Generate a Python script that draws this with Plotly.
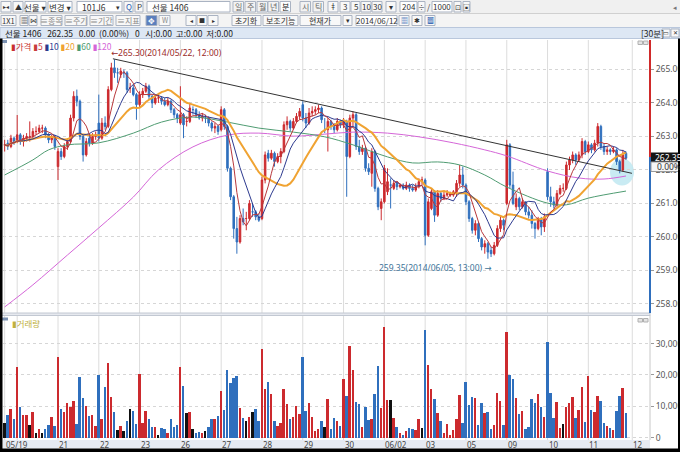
import pandas as pd
import plotly.graph_objects as go

W, H = 680, 452
KR = "Noto Sans CJK KR, Noto Sans, DejaVu Sans"
NUM = "Noto Sans, DejaVu Sans"

# 선물 1406, 30분봉 (05/19 ~ 06/11)
opens = [
    262.75, 262.80, 262.70, 262.95,
    262.85, 263.05, 262.85, 262.95, 263.00, 263.00, 263.15, 263.15, 263.25, 263.25, 263.05, 262.90, 263.00,
    262.10, 262.55, 262.40, 262.70, 262.85, 263.55, 264.20, 264.05, 263.00, 262.45, 262.95, 262.80, 263.00,
    263.40, 262.95, 263.40, 263.30, 264.40, 265.05, 264.90, 264.85, 264.90, 264.90, 264.45, 264.45, 264.25,
    263.95, 264.25, 264.35, 264.50, 264.20, 264.00, 264.15, 264.15, 264.05, 263.95, 264.05, 263.80, 263.65,
    263.40, 263.65, 263.45, 263.45, 263.80, 263.80, 263.65, 263.55, 263.55, 263.55, 263.40, 263.25, 263.30,
    263.20, 263.80, 263.30, 262.05, 261.20, 260.25, 259.85, 260.55, 260.55, 260.55, 260.75, 260.75, 260.60,
    260.55, 261.70, 262.50, 262.35, 262.50, 262.25, 262.40, 262.55, 263.35, 263.45, 263.25, 263.45, 263.60,
    263.95, 263.55, 263.40, 263.70, 263.75, 263.80, 263.85, 263.20, 263.20, 263.45, 263.30, 263.20, 263.45,
    263.35, 263.45, 262.40, 263.55, 263.65, 262.70, 262.55, 262.65, 262.05, 261.90, 262.55, 261.45, 260.85,
    261.05, 261.35, 261.55, 261.45, 261.60, 261.50, 261.55, 261.45, 261.55, 261.45, 261.40, 261.50, 261.70,
    261.70, 260.05, 260.85, 261.35, 260.65, 261.30, 261.15, 261.25, 261.25, 261.25, 261.35, 261.60, 261.85,
    261.55, 261.05, 260.55, 260.20, 260.40, 259.95, 259.70, 259.80, 259.60, 259.50, 259.75, 260.25, 260.50,
    261.00, 262.75, 261.55, 260.90, 261.15, 260.90, 261.05, 260.75, 260.65, 260.40, 260.25, 260.55, 260.30,
    261.95, 261.20, 261.05, 260.95, 261.30, 261.45, 261.45, 262.15, 262.30, 262.45, 262.30, 262.45, 262.85,
    262.55, 262.75, 262.60, 262.80, 263.30, 262.70, 262.55, 262.60, 262.55, 262.60, 262.25, 262.00, 262.50,
]
highs = [
    262.90, 262.90, 263.05, 263.00,
    263.64, 263.10, 263.05, 263.10, 263.45, 263.25, 263.30, 263.35, 263.35, 263.30, 263.10, 263.05, 263.05,
    262.65, 262.65, 262.80, 262.95, 263.65, 264.35, 264.40, 264.10, 263.05, 262.95, 263.05, 263.10, 263.15,
    264.25, 263.55, 263.60, 264.50, 265.20, 265.30, 265.05, 265.05, 265.00, 264.95, 264.60, 264.55, 264.30,
    264.35, 264.45, 264.60, 264.55, 264.25, 264.25, 264.30, 264.20, 264.15, 264.15, 264.10, 263.85, 263.70,
    264.50, 263.70, 263.60, 264.00, 263.90, 263.85, 263.75, 263.70, 263.65, 263.60, 263.45, 263.40, 263.35,
    263.90, 263.85, 263.35, 262.10, 261.25, 260.60, 260.65, 260.85, 260.75, 261.10, 261.00, 260.80, 260.70,
    261.80, 262.55, 262.60, 262.60, 262.55, 262.50, 262.65, 263.45, 263.60, 263.50, 263.55, 263.70, 263.85,
    264.05, 263.70, 263.85, 263.90, 263.90, 263.95, 263.90, 263.55, 263.55, 263.50, 263.40, 263.55, 263.50,
    263.55, 263.50, 263.65, 263.75, 263.70, 262.90, 262.75, 262.70, 262.20, 262.65, 262.60, 261.50, 261.15,
    262.15, 262.05, 261.75, 261.70, 261.65, 261.60, 261.60, 261.65, 261.60, 261.55, 261.60, 261.75, 261.80,
    261.75, 261.15, 261.45, 261.40, 261.40, 261.35, 261.35, 261.40, 261.35, 261.40, 261.70, 262.15, 262.10,
    261.60, 261.10, 260.60, 260.50, 260.45, 260.00, 259.90, 259.85, 259.70, 259.85, 260.35, 260.60, 260.55,
    262.90, 262.80, 261.95, 261.30, 261.20, 261.15, 261.05, 260.90, 260.80, 260.45, 260.60, 260.60, 260.70,
    262.05, 261.50, 261.20, 261.40, 261.55, 261.60, 262.25, 262.40, 262.55, 262.50, 262.55, 262.95, 262.90,
    262.85, 262.80, 262.90, 263.40, 263.35, 262.80, 262.70, 262.65, 262.70, 262.65, 262.30, 262.60, 262.55,
]
lows = [
    262.55, 262.60, 262.65, 262.75,
    262.80, 262.75, 262.70, 262.85, 262.85, 262.95, 263.05, 263.10, 263.10, 262.95, 262.80, 262.80, 262.60,
    261.70, 262.30, 262.35, 262.60, 262.80, 263.45, 263.90, 262.90, 262.25, 262.40, 262.70, 262.75, 262.90,
    262.85, 262.90, 263.20, 263.25, 264.35, 264.75, 264.60, 264.75, 264.75, 264.30, 264.30, 264.20, 263.50,
    263.85, 264.15, 264.30, 264.10, 263.85, 263.95, 264.00, 263.95, 263.90, 263.90, 263.70, 263.55, 263.40,
    263.35, 262.95, 263.30, 263.40, 263.65, 263.55, 263.50, 263.45, 263.40, 263.30, 263.15, 263.10, 263.05,
    263.15, 263.20, 261.95, 261.10, 259.95, 259.50, 259.80, 260.35, 260.20, 260.50, 260.60, 260.50, 260.45,
    260.50, 261.60, 262.25, 262.30, 262.10, 262.20, 262.20, 262.50, 263.20, 263.15, 263.20, 263.40, 263.50,
    263.45, 263.25, 263.35, 263.60, 263.65, 263.70, 263.40, 263.10, 262.55, 263.20, 263.10, 263.15, 263.25,
    263.25, 261.20, 262.35, 263.30, 262.60, 262.45, 262.45, 261.95, 261.85, 261.50, 261.35, 260.80, 260.50,
    261.00, 261.25, 260.85, 261.40, 261.40, 261.45, 261.40, 261.40, 261.35, 261.35, 261.35, 261.45, 261.55,
    259.75, 260.00, 260.80, 260.45, 260.60, 261.05, 261.10, 261.20, 261.20, 261.20, 261.20, 261.50, 261.45,
    260.95, 260.45, 260.10, 260.05, 259.85, 259.60, 259.50, 259.35, 259.40, 259.45, 259.70, 260.15, 260.20,
    260.95, 261.45, 260.95, 260.80, 260.80, 260.85, 260.65, 260.55, 260.25, 259.95, 260.20, 260.05, 260.15,
    261.10, 260.90, 260.85, 260.90, 261.25, 261.35, 261.40, 262.00, 262.20, 262.15, 262.25, 262.35, 262.45,
    262.50, 262.50, 262.55, 262.70, 262.60, 262.45, 262.45, 262.45, 262.50, 262.15, 261.90, 261.95, 262.30,
]
closes = [
    262.75, 262.70, 262.95, 262.85,
    263.05, 262.85, 262.95, 263.00, 263.00, 263.15, 263.15, 263.25, 263.25, 263.05, 262.90, 263.00, 262.70,
    262.55, 262.40, 262.70, 262.85, 263.55, 264.20, 264.05, 263.00, 262.45, 262.85, 262.80, 263.00, 263.05,
    262.95, 263.40, 263.30, 264.40, 265.05, 264.90, 264.90, 264.95, 264.90, 264.40, 264.45, 264.25, 263.95,
    264.25, 264.35, 264.50, 264.20, 264.00, 264.15, 264.15, 264.05, 263.95, 264.05, 263.80, 263.65, 263.55,
    263.65, 263.35, 263.45, 263.85, 263.80, 263.65, 263.55, 263.60, 263.55, 263.40, 263.25, 263.30, 263.15,
    263.80, 263.30, 262.05, 261.20, 260.25, 259.85, 260.55, 260.45, 260.55, 261.00, 260.75, 260.60, 260.50,
    261.70, 262.45, 262.35, 262.50, 262.25, 262.40, 262.55, 263.35, 263.45, 263.25, 263.45, 263.60, 263.75,
    263.55, 263.40, 263.70, 263.75, 263.80, 263.85, 263.50, 263.20, 263.45, 263.30, 263.20, 263.45, 263.35,
    263.45, 262.40, 263.55, 263.65, 262.70, 262.55, 262.65, 262.05, 261.95, 262.55, 261.45, 260.90, 261.05,
    262.05, 261.65, 261.55, 261.60, 261.50, 261.55, 261.45, 261.55, 261.45, 261.40, 261.50, 261.65, 261.70,
    260.05, 261.05, 261.35, 260.65, 261.30, 261.15, 261.25, 261.30, 261.30, 261.35, 261.60, 261.85, 261.55,
    261.05, 260.55, 260.20, 260.40, 259.95, 259.70, 259.80, 259.55, 259.50, 259.75, 260.25, 260.50, 260.35,
    262.75, 261.55, 261.00, 261.15, 260.90, 261.05, 260.75, 260.65, 260.40, 260.25, 260.55, 260.30, 260.60,
    261.20, 261.05, 260.95, 261.30, 261.45, 261.45, 262.15, 262.30, 262.45, 262.30, 262.45, 262.85, 262.55,
    262.75, 262.60, 262.80, 263.30, 262.70, 262.55, 262.60, 262.55, 262.60, 262.25, 262.00, 262.45, 262.35,
]
volumes = [
    4760, 7400, 9300, 6100,
    22850, 10050, 7400, 7400, 4340, 8460, 1690, 2960, 1800, 2960, 4340, 6670, 3910,
    26030, 9310, 8460, 11110, 10050, 11740, 4550, 19570, 12800, 10370, 7090, 7400, 3910,
    20100, 6140, 16290, 23910, 13010, 8360, 2650, 3910, 2430, 5610, 9310, 8780, 4550,
    20420, 4970, 8780, 6140, 3490, 3490, 1160, 3170, 2860, 1800, 6140, 3700, 4340,
    22750, 16610, 7940, 8360, 2960, 1690, 2010, 1690, 2430, 3600, 6030, 6240, 6980,
    15020, 8990, 21900, 17670, 19150, 19680, 9730, 6450, 5400, 6880, 8460, 9310, 5610,
    28350, 15660, 17770, 13970, 5610, 4020, 4760, 15660, 10790, 6030, 6880, 10370, 7720,
    25920, 8780, 11110, 6670, 2220, 2860, 5610, 3700, 12480, 2960, 6560, 5400, 4020,
    18830, 13540, 29410, 21690, 11640, 10900, 3700, 9840, 5820, 6140, 13970, 23060, 9630,
    35440, 12270, 12270, 6450, 3700, 1800, 1160, 2430, 3280, 3070, 2750, 6240, 3390,
    34490, 23280, 15660, 12590, 7940, 5610, 1800, 4550, 1160, 2750, 6140, 13860, 4760,
    17770, 10580, 13230, 12800, 4230, 11110, 7940, 8250, 2860, 4230, 14390, 11960, 4340,
    33860, 20100, 18830, 12700, 7720, 8780, 2860, 3700, 12480, 11210, 14070, 10050, 6880,
    30680, 14390, 6350, 11640, 3280, 4550, 9840, 11210, 13230, 6350, 8990, 16290, 5290,
    19680, 8990, 8460, 13540, 11740, 4870, 4020, 3170, 2750, 8780, 13440, 16080, 7940,
]

day_starts = [0, 4, 17, 30, 43, 56, 69, 82, 95, 108, 121, 134, 147, 160, 173, 186, 200]
day_labels = ["05/19", "", "21", "22", "23", "26", "27", "28", "29", "30",
              "06/02", "03", "05", "09", "10", "11", "12"]

# 60, 120 이평
ma60_idx = [0, 9, 14, 20, 30, 41, 50, 60, 71, 81, 92, 102, 111, 122, 130, 138, 145, 153, 160, 173, 179, 186, 198]
ma60_val = [261.85, 262.30, 262.60, 262.75, 262.81, 263.10, 263.43, 263.58, 263.43, 263.25, 263.13, 262.99,
            262.75, 262.39, 262.21, 262.24, 262.15, 261.85, 261.49, 261.01, 260.96, 261.16, 261.37]
ma120_idx = [0, 9, 20, 30, 41, 49, 60, 71, 81, 92, 102, 111, 122, 132, 143, 153, 160, 173, 183, 191, 198]
ma120_val = [257.91, 258.57, 259.46, 260.27, 261.19, 262.00, 262.69, 263.04, 263.10, 263.01, 263.07, 263.13,
             263.10, 262.99, 262.81, 262.60, 262.42, 261.97, 261.76, 261.73, 261.82]

trend_idx = [34.5, 199.9]
trend_val = [265.32, 261.90]

price_ticks = [258, 259, 260, 261, 262, 263, 264, 265]
vol_ticks = [0, 10000, 20000, 30000]
vol_tick_text = ["0", "10,000", "20,000", "30,000"]

RED = "#cc2a2e"
BLUE = "#2f6fbd"

bars = list(range(len(closes)))
cl = pd.Series(closes)
ma5 = cl.rolling(5, min_periods=1).mean()
ma10 = cl.rolling(10, min_periods=1).mean()
ma20 = cl.rolling(20, min_periods=1).mean()

vol_colors = [RED if c > o else (BLUE if c < o else "#111111") for o, c in zip(opens, closes)]


def px(x):
    return x / W


def py(y):
    return 1 - y / H


shapes = []
annotations = []


def rect(x0, y0, x1, y1, fill, line=None, layer="above"):
    shapes.append(dict(type="rect", xref="paper", yref="paper",
                       x0=px(x0), x1=px(x1), y0=py(y1), y1=py(y0),
                       fillcolor=fill, layer=layer,
                       line=dict(color=line or fill, width=1 if line else 0)))


def text(x, y, s, size=9, color="#222", anchor="left", family=KR):
    annotations.append(dict(xref="paper", yref="paper", x=px(x), y=py(y), text=s,
                            showarrow=False, xanchor=anchor, yanchor="middle",
                            font=dict(size=size, color=color, family=family)))


def button(x0, x1, y0, y1, label, fill="#f8f8f8", color="#333", size=8.5, border="#aab3c2"):
    rect(x0, y0, x1, y1, fill, border)
    if label:
        text((x0 + x1) / 2, (y0 + y1) / 2, label, size=size, color=color, anchor="center")


fig = go.Figure()

fig.add_trace(go.Candlestick(
    x=bars, open=opens, high=highs, low=lows, close=closes,
    increasing=dict(line=dict(color=RED, width=1), fillcolor=RED),
    decreasing=dict(line=dict(color=BLUE, width=1), fillcolor=BLUE),
    whiskerwidth=0, hoverinfo="skip", showlegend=False, xaxis="x", yaxis="y"))

fig.add_trace(go.Scatter(x=ma120_idx, y=ma120_val, mode="lines", line=dict(color="#d566d8", width=1, shape="spline"),
                         hoverinfo="skip", showlegend=False))
fig.add_trace(go.Scatter(x=ma60_idx, y=ma60_val, mode="lines", line=dict(color="#4f9c72", width=1, shape="spline"),
                         hoverinfo="skip", showlegend=False))
fig.add_trace(go.Scatter(x=bars, y=ma20, mode="lines", line=dict(color="#f0a332", width=2),
                         hoverinfo="skip", showlegend=False))
fig.add_trace(go.Scatter(x=bars, y=ma10, mode="lines", line=dict(color="#2d3a8f", width=1),
                         hoverinfo="skip", showlegend=False))
fig.add_trace(go.Scatter(x=bars, y=ma5, mode="lines", line=dict(color="#b8383c", width=1),
                         hoverinfo="skip", showlegend=False))
fig.add_trace(go.Scatter(x=trend_idx, y=trend_val, mode="lines", line=dict(color="#333333", width=1),
                         hoverinfo="skip", showlegend=False))

fig.add_trace(go.Bar(x=bars, y=volumes, marker=dict(color=vol_colors, line=dict(width=0)), width=0.62,
                     hoverinfo="skip", showlegend=False, xaxis="x2", yaxis="y2"))

# 가로 그리드는 축, 세로 날짜선은 shape
for d in day_starts:
    shapes.append(dict(type="line", xref="x", yref="paper", x0=d, x1=d, y0=py(448), y1=py(40),
                       line=dict(color="#dcdcdc", width=1), layer="below"))

# 하이라이트 원
shapes.append(dict(type="circle", xref="paper", yref="paper", x0=px(610), x1=px(634), y0=py(185.5), y1=py(158.5),
                   fillcolor="#bfe8f1", opacity=0.85, line=dict(width=0), layer="below"))

# 툴바
rect(0, 0, 680, 13.5, "#f0f0f0")
rect(0, 13.5, 680, 27.5, "#f4f4f4")
shapes.append(dict(type="line", xref="paper", yref="paper", x0=0, x1=1, y0=py(13.5), y1=py(13.5),
                   line=dict(color="#d0d0d0", width=1)))
rect(0, 27.5, 680, 38.5, "#dde7f4", "#b9c7dc")

y0, y1 = 1.5, 12
button(1, 11, y0, y1, "▸◂", size=6)
button(13, 23, y0, y1, "▲", size=7)
button(25, 46, y0, y1, "선물 ▾", fill="#ffffff")
button(48, 72, y0, y1, "변경 ▾", fill="#ffffff")
rect(77, y0, 122, y1, "#ffffff", "#aab3c2")
text(80, 6.8, "101J6", size=8.5, color="#333")
text(118, 6.8, "▾", size=7, color="#333", anchor="center")
button(124, 133, y0, y1, "Q", color="#2a5db0", size=8)
button(135, 143, y0, y1, "P", color="#333", size=8)
rect(147, y0, 230, y1, "#ffffff", "#aab3c2")
text(150, 6.8, "선물 1406", size=8.5, color="#333")
for xa, lab in [(233, "일"), (245, "주"), (257, "월"), (268, "년"), (280, "분"), (300, "시"), (313, "틱")]:
    button(xa, xa + 10.5, y0, y1, lab, fill="#ffffff" if lab == "분" else "#f2f2f2",
           color="#111" if lab == "분" else "#666", size=8)
button(328, 338, y0, y1, "ǂ", size=8)
for xa, xb, lab in [(340, 350, "3"), (351, 360, "5"), (361, 371, "10"), (372, 382, "30"), (386, 396, "▾")]:
    button(xa, xb, y0, y1, lab, size=8)
rect(400, y0, 417, y1, "#ffffff", "#aab3c2")
text(408.5, 6.8, "204", size=8, color="#333", anchor="center")
button(418, 425, y0, y1, "÷", size=7)
text(428.5, 6.8, "/", size=8, color="#333", anchor="center")
rect(432, y0, 452, y1, "#ffffff", "#aab3c2")
text(442, 6.8, "1000", size=8, color="#333", anchor="center")
button(454, 461, y0, y1, "⊡", size=7)
button(463, 470, y0, y1, "▣", size=7)
text(675, 6.8, "◂", size=7, color="#777", anchor="center")

y0, y1 = 15.5, 25.5
button(1, 16, y0, y1, "1X1", size=7.5)
button(20, 28, y0, y1, "▦", size=7)
button(29, 37, y0, y1, "⋈", size=7)
for xa, xb, lab in [(41, 62, "≡종목"), (65, 87, "≡주기"), (90, 113, "≡기간"), (116, 140, "≡지표")]:
    button(xa, xb, y0, y1, lab, color="#8a8a8a", size=8)
button(146, 157, y0, y1, "✥", fill="#5b7fbd", color="#ffffff", size=8)
button(159, 170, y0, y1, "W", color="#8a8a8a", size=7)
button(186, 196, y0, y1, "◂", size=6)
button(197, 207, y0, y1, "■", size=6)
button(208, 218, y0, y1, "▸", size=6)
button(232, 261, y0, y1, "초기화", size=8)
button(263, 298, y0, y1, "보조기능", size=8)
button(300, 341, y0, y1, "현재가", size=8)
button(343, 352, y0, y1, "▾", size=7)
rect(356, y0, 397, y1, "#ffffff", "#aab3c2")
text(376.5, 20.5, "2014/06/12", size=8, color="#333", anchor="center")
button(399, 409, y0, y1, "▦", color="#2a5db0", size=7)
button(412, 422, y0, y1, "✱", size=7)
button(425, 435, y0, y1, "▩", color="#2a5db0", size=7)

text(3, 33, f"선물 1406   {closes[-1]:.2f}   0.00  (0.00%)   0   시:0.00  고:0.00  저:0.00", size=8.5, color="#222")
text(639, 33, "[30분]", size=8.5, color="#222")
button(662, 670, 29, 37, "▭", size=6)
button(671, 679, 29, 37, "✕", size=6)

# 범례
rect(0.5, 40, 7, 43, "#7a90b0")
legend = ("<span style='color:#c83030'>▮가격</span> <span style='color:#c83c3c'>▮5</span> "
          "<span style='color:#2d3a8f'>▮10</span> <span style='color:#f0a332'>▮20</span> "
          "<span style='color:#4f9c72'>▮60</span> <span style='color:#d566d8'>▮120</span>")
text(9, 46, legend, size=8.5)
rect(638, 41, 642.5, 44.5, "#e4e4e4", "#b0b0b0")
rect(643.5, 41, 648, 44.5, "#e4e4e4", "#b0b0b0")

# 패널 구분선, 거래량 범례
rect(0, 313, 650, 315.5, "#e6e9ef", "#c2c8d2")
rect(1, 317.5, 8, 320.5, "#7a90b0")
text(10, 322.5, "<span style='color:#c0b040'>▮거래량</span>", size=8.5)
rect(638, 318.5, 642.5, 322, "#e4e4e4", "#b0b0b0")
rect(643.5, 318.5, 648, 322, "#e4e4e4", "#b0b0b0")

# 날짜 라벨 띠
rect(3, 440, 650, 448.5, "#e6eaf2", layer="below")
for d, lab in zip(day_starts, day_labels):
    if lab:
        annotations.append(dict(xref="x", yref="paper", x=d, y=py(444.5), text=lab, showarrow=False,
                                xanchor="left", yanchor="middle", xshift=-1,
                                font=dict(size=8, color="#444", family=NUM)))

# 오른쪽 축선 (현재가 위 빨강 / 아래 파랑)
shapes.append(dict(type="line", xref="paper", yref="paper", x0=px(650), x1=px(650), y0=py(157), y1=py(40),
                   line=dict(color="#d02a2a", width=2)))
shapes.append(dict(type="line", xref="paper", yref="paper", x0=px(650), x1=px(650), y0=py(313), y1=py(157),
                   line=dict(color="#2f6fbd", width=2)))
shapes.append(dict(type="line", xref="paper", yref="paper", x0=px(650), x1=px(650), y0=py(440), y1=py(315),
                   line=dict(color="#c8c8c8", width=1)))

# 고점 / 저점 표시
hi_i = max(bars, key=lambda i: highs[i])
lo_i = min(bars, key=lambda i: lows[i])
annotations.append(dict(xref="x", yref="y", x=hi_i, y=highs[hi_i], text=f"←{highs[hi_i]:.2f}(2014/05/22, 12:00)",
                        showarrow=False, xanchor="left", yanchor="bottom", xshift=-5, yshift=-1,
                        font=dict(size=8.5, color="#9a2a2a", family=NUM)))
annotations.append(dict(xref="x", yref="y", x=lo_i, y=lows[lo_i], text=f"{lows[lo_i]:.2f}(2014/06/05, 13:00) →",
                        showarrow=False, xanchor="right", yanchor="top", xshift=5, yshift=-1,
                        font=dict(size=8.5, color="#3e7398", family=NUM)))

# 현재가 박스
rect(651, 152.5, 680, 162, "#151515")
text(653, 157.3, f"{closes[-1]:.2f}", size=8.5, color="#ffffff", family=NUM)
rect(651, 162, 680, 171.5, "#f6f6f6", "#9a9a9a")
text(655, 166.8, "0.00%", size=8.5, color="#333", family=NUM)

# 검은 테두리
rect(0, 38.5, 2.5, 452, "#000000")
rect(678, 38.5, 680, 452, "#000000")
rect(0, 448.5, 680, 452, "#000000")

axis_common = dict(showline=False, zeroline=False, fixedrange=True)
fig.update_layout(
    width=W, height=H, margin=dict(l=0, r=0, t=0, b=0),
    paper_bgcolor="#ffffff", plot_bgcolor="#ffffff",
    showlegend=False, bargap=0,
    xaxis=dict(domain=[px(3), px(650)], range=[-0.526, 205.65], showgrid=False, showticklabels=False,
               ticks="", rangeslider=dict(visible=False), anchor="y", **axis_common),
    xaxis2=dict(domain=[px(3), px(650)], range=[-0.526, 205.65], showgrid=False, showticklabels=False,
                ticks="", matches="x", anchor="y2", **axis_common),
    yaxis=dict(domain=[py(313), py(40)], range=[257.73, 265.88], side="right", anchor="x",
               tickvals=price_ticks, ticktext=[f"{v:.2f}" for v in price_ticks],
               ticks="outside", ticklen=3, tickcolor="#999", automargin=False,
               tickfont=dict(size=8.5, color="#555", family=NUM),
               showgrid=True, gridcolor="#d6d6d6", griddash="dot", gridwidth=1, **axis_common),
    yaxis2=dict(domain=[py(440), py(315.5)], range=[-730, 38950], side="right", anchor="x2",
                tickvals=vol_ticks, ticktext=vol_tick_text,
                ticks="outside", ticklen=3, tickcolor="#999", automargin=False,
                tickfont=dict(size=8.5, color="#555", family=NUM),
                showgrid=True, gridcolor="#d6d6d6", griddash="dot", gridwidth=1, **axis_common),
    shapes=shapes, annotations=annotations,
)

# 페이지 기본 여백 제거, 모드바 숨김
fig.write_html("out.html", config={"displayModeBar": False},
               post_script="document.body.style.margin='0';")
